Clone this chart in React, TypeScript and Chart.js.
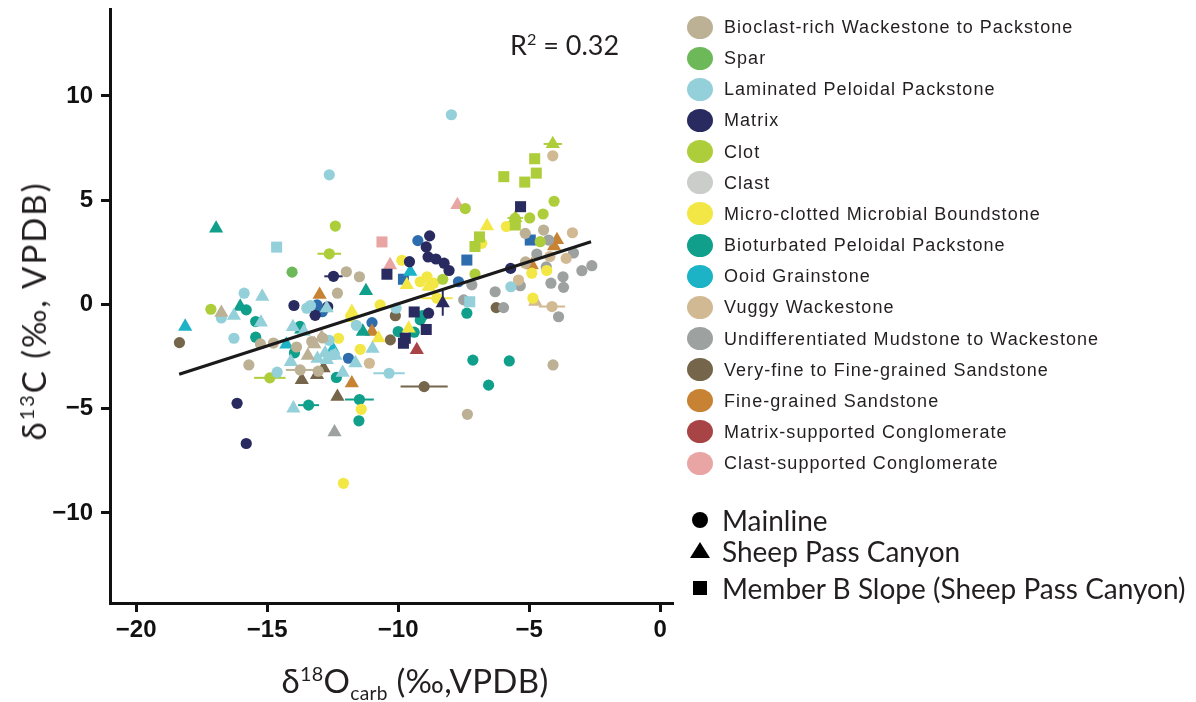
import React, { useEffect, useRef } from "react";
import { Chart, registerables } from "chart.js";

Chart.register(...registerables);

// [x (δ18O), y (δ13C), site (M = Mainline, S = Sheep Pass Canyon, B = Member B Slope), xErr?, yErr?]
type P = [number, number, string, number?, number?];

const lithologyNames = [
  "Bioclast-rich Wackestone to Packstone",
  "Spar",
  "Laminated Peloidal Packstone",
  "Matrix",
  "Clot",
  "Clast",
  "Micro-clotted Microbial Boundstone",
  "Bioturbated Peloidal Packstone",
  "Ooid Grainstone",
  "Vuggy Wackestone",
  "Undifferentiated Mudstone to Wackestone",
  "Very-fine to Fine-grained Sandstone",
  "Fine-grained Sandstone",
  "Matrix-supported Conglomerate",
  "Clast-supported Conglomerate",
];

const lithologyColors = [
  "#BCB095", "#6DB95A", "#93D0DA", "#292A5F", "#AECD3A",
  "#CACDC9", "#F2E745", "#0F9F8B", "#1CB3C7", "#D1B994",
  "#9DA2A0", "#75654A", "#C78333", "#A84446", "#E8A5A3",
];

const siteNames = ["Mainline", "Sheep Pass Canyon", "Member B Slope (Sheep Pass Canyon)"];

const bioclastPts: P[] = [
  [-15.7, -2.9, "M"], [-15.26, -1.89, "M"], [-14.76, -1.85, "M"], [-13.88, -2.04, "M"],
  [-13.74, -3.14, "M", 0.55], [-13.3, -1.78, "M"], [-12.89, -1.61, "M"], [-12.32, 0.54, "M"],
  [-11.98, 1.57, "M"], [-11.48, 1.33, "M"], [-5.15, 3.41, "M"], [-4.45, 3.57, "M"],
  [-5.14, 2.04, "M"], [-4.09, -2.9, "M"], [-7.36, -5.27, "M"], [-13.05, -3.2, "M"],
  [-16.75, -0.39, "S"], [-13.45, -2.45, "S"], [-12.92, -1.57, "S"], [-13.2, -1.9, "S"],
];
const sparPts: P[] = [[-14.05, 1.55, "M"]];
const lamPeloidalPts: P[] = [
  [-7.97, 9.1, "M"], [-12.63, 6.22, "M"], [-16.75, -0.65, "M"], [-15.88, 0.54, "M"],
  [-16.27, -1.62, "M"], [-14.62, -3.25, "M"], [-13.49, -0.18, "M"], [-11.6, -1.0, "M"],
  [-10.35, -3.3, "M", 0.6], [-5.7, 0.85, "M"], [-12.64, -1.72, "M"], [-10.08, -0.18, "M"],
  [-13.35, -0.05, "M"], [-12.45, -2.4, "M"],
  [-16.27, -0.54, "S"], [-15.19, 0.38, "S"], [-15.24, -0.86, "S"], [-14.02, -1.08, "S"],
  [-13.6, -1.3, "S"], [-14.1, -2.75, "S"], [-14.0, -4.98, "S"], [-13.08, -2.6, "S"],
  [-12.72, -2.66, "S"], [-12.12, -3.27, "S"], [-11.63, -2.81, "S"], [-10.98, -2.12, "S"],
  [-12.73, -0.18, "S"], [-12.79, -2.34, "S"], [-12.4, -2.45, "S"],
  [-14.64, 2.75, "B"], [-7.27, 0.13, "B"],
];
const matrixPts: P[] = [
  [-16.15, -4.74, "M"], [-15.8, -6.67, "M"], [-13.98, -0.05, "M"], [-13.17, -0.52, "M"],
  [-12.47, 1.35, "M", 0.35], [-12.69, -0.11, "M"], [-9.57, 2.05, "M"], [-8.8, 3.29, "M"],
  [-8.93, 2.76, "M"], [-8.86, 2.28, "M"], [-8.56, 2.18, "M"], [-8.25, 1.98, "M"],
  [-8.06, 1.63, "M"], [-8.84, -0.42, "M"], [-5.71, 1.73, "M"],
  [-8.3, 0.06, "S", 0, 0.6],
  [-5.33, 4.69, "B"], [-10.43, 1.45, "B"], [-9.39, -0.36, "B"], [-8.93, -1.2, "B"],
  [-9.73, -1.62, "B"], [-9.8, -1.86, "B"],
];
const clotPts: P[] = [
  [-17.15, -0.23, "M"], [-12.4, 3.76, "M"], [-12.63, 2.43, "M", 0.45, 0.2], [-14.9, -3.52, "M", 0.6],
  [-7.44, 4.6, "M"], [-4.05, 4.95, "M"], [-4.47, 4.34, "M"], [-4.98, 4.15, "M"],
  [-5.54, 4.13, "M"], [-8.3, 1.21, "M"], [-7.07, 1.46, "M"], [-4.58, 3.01, "M"],
  [-4.1, 7.7, "S", 0.35], [-5.53, 4.15, "S", 0.3],
  [-4.79, 6.99, "B"], [-4.73, 6.3, "B"], [-5.17, 5.87, "B"], [-5.97, 6.13, "B"],
  [-5.53, 3.81, "B"], [-6.9, 3.24, "B"], [-7.07, 2.78, "B"],
];
const clastPts: P[] = [];
const microbialPts: P[] = [
  [-12.09, -8.58, "M"], [-11.41, -5.03, "M"], [-11.45, -2.15, "M"], [-12.28, -1.62, "M"],
  [-11.81, -0.58, "M"], [-10.69, -0.02, "M"], [-9.86, 2.12, "M"], [-9.16, 1.09, "M"],
  [-8.9, 1.33, "M"], [-8.65, 1.02, "M"], [-8.52, 0.3, "M", 0.6], [-5.87, 3.74, "M"],
  [-6.81, 2.93, "M"], [-4.86, 0.3, "M"], [-4.9, 1.5, "M"], [-4.33, 1.63, "M"],
  [-11.77, -0.35, "S"], [-10.75, -1.62, "S"], [-9.67, 0.94, "S"], [-8.84, 0.85, "S"],
  [-9.6, -1.15, "S"], [-6.61, 3.76, "S"],
];
const bioturbatedPts: P[] = [
  [-15.8, -0.26, "M"], [-15.44, -0.82, "M"], [-15.44, -1.57, "M"], [-13.75, -1.05, "M"],
  [-13.96, -2.32, "M"], [-13.42, -4.83, "M", 0.4], [-12.36, -3.5, "M"], [-11.48, -4.56, "M", 0.55],
  [-11.5, -5.58, "M"], [-10.0, -1.3, "M"], [-9.39, -1.33, "M"], [-9.16, -0.74, "M"],
  [-9.07, -0.54, "M"], [-7.38, -0.42, "M"], [-7.15, -2.67, "M"], [-6.55, -3.87, "M"],
  [-5.76, -2.71, "M"],
  [-16.95, 3.65, "S"], [-16.03, -0.1, "S"], [-11.23, 0.65, "S"], [-11.35, -1.3, "S"], [-13.7, -1.2, "S"],
];
const ooidPts: P[] = [
  [-18.13, -1.06, "S"], [-14.27, -1.92, "S"], [-12.49, -2.15, "S"], [-9.54, 1.57, "S"],
];
const vuggyPts: P[] = [
  [-4.1, 7.13, "M"], [-3.35, 3.44, "M"], [-3.59, 2.21, "M"], [-5.41, 1.17, "M"],
  [-4.13, -0.1, "M", 0.5], [-11.1, -2.82, "M"], [-4.21, 2.3, "M"], [-5.15, 1.98, "M"],
  [-4.77, 0.13, "S"],
];
const undiffPts: P[] = [
  [-4.26, 3.09, "M"], [-4.71, 2.42, "M"], [-3.31, 2.47, "M"], [-2.99, 1.62, "M"],
  [-2.61, 1.86, "M"], [-4.17, 1.02, "M"], [-3.71, 1.33, "M"], [-3.69, 0.82, "M"],
  [-3.88, -0.59, "M"], [-5.34, 0.9, "M"], [-6.3, 0.61, "M"], [-5.98, -0.15, "M"],
  [-4.35, 1.8, "M"], [-7.19, 0.94, "M"], [-7.5, 0.22, "M"],
  [-12.43, -6.13, "S"],
];
const vfSandPts: P[] = [
  [-18.35, -1.83, "M"], [-10.11, -0.54, "M"], [-10.3, -1.7, "M"], [-9.01, -3.94, "M", 0.9],
  [-6.26, -0.15, "M"],
  [-13.68, -3.62, "S"], [-13.1, -3.38, "S"], [-12.85, -3.06, "S"], [-12.32, -4.42, "S"],
];
const fSandPts: P[] = [
  [-13.0, 0.47, "S"], [-11.0, -1.3, "S"], [-11.77, -3.78, "S"], [-4.9, 1.89, "S"],
  [-3.94, 3.1, "S"], [-4.05, 2.8, "S"],
];
const matrixCongPts: P[] = [[-9.29, -2.18, "S"]];
const clastCongPts: P[] = [[-7.74, 4.77, "S"], [-10.31, 1.89, "S"], [-10.62, 3.0, "B"]];

// unlabelled blue samples present in the plot
const otherColor = "#2E6DAD";
const otherPts: P[] = [
  [-9.25, 3.06, "M"], [-7.7, 1.09, "M"], [-11.9, -2.58, "M"], [-11.0, -0.87, "M"],
  [-13.1, -0.02, "M"], [-12.9, -0.35, "M"],
  [-9.8, 1.21, "B"], [-7.38, 2.13, "B"], [-4.96, 3.09, "B"],
];

const lithologyData: P[][] = [
  bioclastPts, sparPts, lamPeloidalPts, matrixPts, clotPts, clastPts, microbialPts,
  bioturbatedPts, ooidPts, vuggyPts, undiffPts, vfSandPts, fSandPts, matrixCongPts, clastCongPts,
];

const trendX = [-18.36, -2.64];
const trendY = [-3.35, 3.01];

const xTicks = [-20, -15, -10, -5, 0];
const yTicks = [-10, -5, 0, 5, 10];
const xRange = [-21, 0.45];
const yRange = [-14.32, 14.22];

const r2Label = "0.32";

const siteStyle: Record<string, string> = { M: "circle", S: "triangle", B: "rect" };
const siteRadius: Record<string, number> = { M: 5.6, S: 8.2, B: 7.8 };

const errorBarPlugin = {
  id: "errorBars",
  beforeDatasetsDraw(chart: any) {
    const { ctx } = chart;
    const xs = chart.scales.x;
    const ys = chart.scales.y;
    ctx.save();
    chart.data.datasets.forEach((ds: any) => {
      if (ds.type === "line") return;
      ds.data.forEach((p: any) => {
        if (!p.ex && !p.ey) return;
        ctx.strokeStyle = ds.backgroundColor;
        ctx.lineWidth = 2;
        const px = xs.getPixelForValue(p.x);
        const py = ys.getPixelForValue(p.y);
        ctx.beginPath();
        if (p.ex) {
          ctx.moveTo(xs.getPixelForValue(p.x - p.ex), py);
          ctx.lineTo(xs.getPixelForValue(p.x + p.ex), py);
        }
        if (p.ey) {
          ctx.moveTo(px, ys.getPixelForValue(p.y - p.ey));
          ctx.lineTo(px, ys.getPixelForValue(p.y + p.ey));
        }
        ctx.stroke();
      });
    });
    ctx.restore();
  },
};

const toPoint = (p: P) => ({ x: p[0], y: p[1], s: p[2], ex: p[3] || 0, ey: p[4] || 0 });

const minus = (v: number) => String(v).replace("-", "\u2212");

const TEXT = "#231F20";

export default function App() {
  const ref = useRef<HTMLCanvasElement | null>(null);

  useEffect(() => {
    const prevOverflow = document.body.style.overflow;
    document.body.style.overflow = "hidden";
    return () => {
      document.body.style.overflow = prevOverflow;
    };
  }, []);

  useEffect(() => {
    if (!ref.current) return;
    const scatterSets: any[] = lithologyData.map((pts, i) => ({
      type: "scatter",
      label: lithologyNames[i],
      data: pts.map(toPoint),
      backgroundColor: lithologyColors[i],
      borderWidth: 0,
      pointStyle: (c: any) => siteStyle[c.raw ? c.raw.s : "M"],
      pointRadius: (c: any) => siteRadius[c.raw ? c.raw.s : "M"],
      order: 1,
    }));
    scatterSets.push({
      type: "scatter",
      label: "other",
      data: otherPts.map(toPoint),
      backgroundColor: otherColor,
      borderWidth: 0,
      pointStyle: (c: any) => siteStyle[c.raw ? c.raw.s : "M"],
      pointRadius: (c: any) => siteRadius[c.raw ? c.raw.s : "M"],
      order: 1,
    });
    const lineSet = {
      type: "line",
      label: "trend",
      data: trendX.map((x, i) => ({ x, y: trendY[i] })),
      borderColor: "#1A1A1A",
      borderWidth: 3.2,
      pointRadius: 0,
      fill: false,
      order: -1,
    };

    const axisCommon = {
      type: "linear",
      border: { display: true, color: "#111", width: 3 },
      grid: {
        drawOnChartArea: false,
        drawTicks: true,
        tickLength: 9,
        lineWidth: 3,
        color: "#111",
      },
    };

    const chart = new Chart(ref.current, {
      type: "scatter",
      data: { datasets: [...scatterSets, lineSet] as any },
      plugins: [errorBarPlugin],
      options: {
        animation: false,
        responsive: false,
        events: [],
        layout: { autoPadding: false, padding: { left: 0, right: 516, top: 0, bottom: 0 } },
        plugins: { legend: { display: false }, tooltip: { enabled: false } },
        scales: {
          x: {
            ...axisCommon,
            position: "bottom",
            min: xRange[0],
            max: xRange[1],
            afterBuildTicks: (s: any) => {
              s.ticks = xTicks.map((v) => ({ value: v }));
            },
            afterFit: (s: any) => {
              s.height = 91;
              s.paddingLeft = 0;
              s.paddingRight = 0;
            },
            ticks: {
              padding: 4,
              color: "#111",
              font: { family: "'Liberation Sans', Arial, sans-serif", size: 24, weight: "bold" },
              callback: (v: any) => minus(v),
            },
          },
          y: {
            ...axisCommon,
            position: "left",
            min: yRange[0],
            max: yRange[1],
            afterBuildTicks: (s: any) => {
              s.ticks = yTicks.map((v) => ({ value: v }));
            },
            afterFit: (s: any) => {
              s.width = 102;
              s.paddingTop = 0;
              s.paddingBottom = 0;
            },
            ticks: {
              padding: 8,
              color: "#111",
              font: { family: "'Liberation Sans', Arial, sans-serif", size: 24, weight: "bold" },
              callback: (v: any) => minus(v),
            },
          },
        } as any,
      },
    } as any);
    return () => chart.destroy();
  }, []);

  const titleFont = "Lato, 'Open Sans', sans-serif";

  return (
    <div style={{ position: "relative", width: 1180, height: 694, color: TEXT }}>
      <canvas ref={ref} width={1180} height={686} style={{ position: "absolute", left: 0, top: 0, width: 1180, height: 686 }} />

      {/* R² annotation */}
      <div style={{ position: "absolute", left: 502, top: 20, fontFamily: titleFont, fontSize: 27, whiteSpace: "nowrap" }}>
        R<sup style={{ fontSize: "0.6em" }}>2</sup> = {r2Label}
      </div>

      {/* Y axis title */}
      <div
        style={{
          position: "absolute", left: 25, top: 303, transform: "translate(-50%, -50%) rotate(-90deg)",
          fontFamily: titleFont, fontSize: 33, letterSpacing: 2, whiteSpace: "nowrap",
        }}
      >
        δ<sup style={{ fontSize: "0.6em" }}>13</sup>C (‰, VPDB)
      </div>

      {/* X axis title */}
      <div
        style={{
          position: "absolute", left: 407, top: 672, transform: "translate(-50%, -50%)",
          fontFamily: titleFont, fontSize: 33, letterSpacing: 0.3, whiteSpace: "nowrap", lineHeight: "36px",
        }}
      >
        δ<sup style={{ fontSize: "0.6em", lineHeight: 0 }}>18</sup>O
        <span style={{ fontSize: "0.58em", verticalAlign: "-0.35em", lineHeight: 0 }}>carb</span> (‰,VPDB)
      </div>

      {/* Lithology legend */}
      {lithologyNames.map((name, i) => (
        <div key={name} style={{ position: "absolute", left: 679, top: 19 + i * 31.15 - 11, height: 22, display: "flex", alignItems: "center" }}>
          <div style={{ width: 26, height: 23, borderRadius: "50%", background: lithologyColors[i] }} />
          <div
            style={{
              marginLeft: 11, fontFamily: "'Liberation Sans', Arial, sans-serif", fontSize: 18,
              letterSpacing: 1.05, whiteSpace: "nowrap", lineHeight: "22px",
            }}
          >
            {name}
          </div>
        </div>
      ))}

      {/* Site legend */}
      {siteNames.map((name, i) => (
        <div key={name} style={{ position: "absolute", left: 680, top: [512, 543, 580][i] - 15, height: 30, display: "flex", alignItems: "center" }}>
          <svg width={24} height={22} viewBox="0 0 24 22" style={{ display: "block" }}>
            {i === 0 && <circle cx={12} cy={11} r={8} fill="#000" />}
            {i === 1 && <polygon points="12,2 22,18 2,18" fill="#000" />}
            {i === 2 && <rect x={5} y={4} width={14} height={14} fill="#000" />}
          </svg>
          <div style={{ marginLeft: 10, fontFamily: titleFont, fontSize: 28, whiteSpace: "nowrap", lineHeight: "30px" }}>
            {name}
          </div>
        </div>
      ))}
    </div>
  );
}
